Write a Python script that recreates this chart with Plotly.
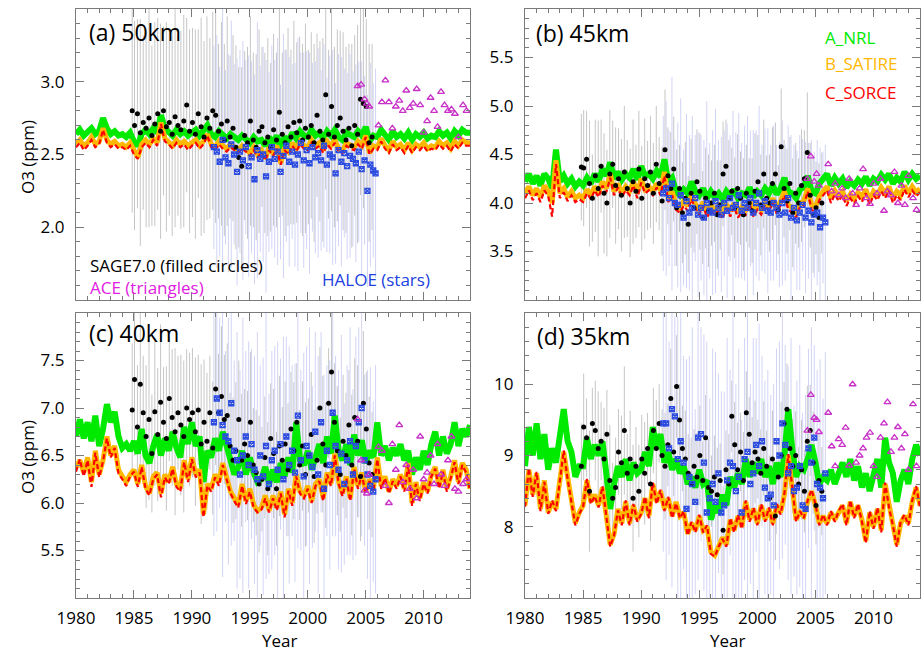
import numpy as np
import plotly.graph_objects as go
from plotly.subplots import make_subplots

# ---------------- model series (3 samples per year, starting Jan 1980) ----------------
a_nrl_50 = [2.64, 2.67, 2.63, 2.65, 2.68, 2.64, 2.66, 2.75, 2.68, 2.64, 2.66, 2.63,
            2.64, 2.62, 2.65, 2.59, 2.56, 2.64, 2.67, 2.64, 2.68, 2.65, 2.77, 2.68,
            2.66, 2.63, 2.67, 2.64, 2.66, 2.63, 2.65, 2.67, 2.63, 2.66, 2.70, 2.64,
            2.62, 2.66, 2.63, 2.61, 2.64, 2.62, 2.60, 2.63, 2.61, 2.58, 2.62, 2.59,
            2.60, 2.56, 2.62, 2.58, 2.63, 2.54, 2.62, 2.59, 2.65, 2.61, 2.66, 2.63,
            2.62, 2.67, 2.63, 2.65, 2.61, 2.66, 2.63, 2.67, 2.62, 2.60, 2.65, 2.63,
            2.62, 2.66, 2.63, 2.69, 2.59, 2.63, 2.62, 2.67, 2.63, 2.60, 2.66, 2.62,
            2.64, 2.61, 2.65, 2.60, 2.64, 2.62, 2.65, 2.61, 2.63, 2.62, 2.66, 2.63,
            2.65, 2.61, 2.66, 2.63, 2.67, 2.65, 2.65]
b_satire_50 = [2.57, 2.60, 2.56, 2.58, 2.62, 2.57, 2.59, 2.68, 2.60, 2.57, 2.59, 2.56,
               2.57, 2.55, 2.58, 2.52, 2.48, 2.57, 2.60, 2.57, 2.61, 2.58, 2.72, 2.61,
               2.59, 2.56, 2.60, 2.57, 2.59, 2.56, 2.58, 2.60, 2.56, 2.59, 2.64, 2.57,
               2.55, 2.59, 2.56, 2.54, 2.57, 2.55, 2.53, 2.56, 2.54, 2.51, 2.55, 2.50,
               2.53, 2.47, 2.55, 2.51, 2.56, 2.44, 2.55, 2.52, 2.58, 2.54, 2.59, 2.56,
               2.55, 2.60, 2.56, 2.58, 2.53, 2.59, 2.56, 2.60, 2.54, 2.53, 2.58, 2.56,
               2.55, 2.59, 2.56, 2.63, 2.51, 2.56, 2.55, 2.61, 2.56, 2.53, 2.59, 2.55,
               2.57, 2.53, 2.58, 2.53, 2.57, 2.55, 2.58, 2.54, 2.56, 2.55, 2.59, 2.56,
               2.58, 2.54, 2.59, 2.56, 2.60, 2.58, 2.58]
c_sorce_50 = [2.55, 2.58, 2.53, 2.56, 2.60, 2.55, 2.57, 2.67, 2.58, 2.55, 2.57, 2.54,
              2.55, 2.53, 2.56, 2.50, 2.47, 2.55, 2.58, 2.55, 2.60, 2.56, 2.71, 2.59,
              2.57, 2.54, 2.58, 2.55, 2.57, 2.53, 2.56, 2.58, 2.54, 2.57, 2.63, 2.55,
              2.53, 2.57, 2.54, 2.52, 2.55, 2.53, 2.51, 2.54, 2.52, 2.49, 2.53, 2.48,
              2.51, 2.46, 2.53, 2.49, 2.54, 2.43, 2.53, 2.50, 2.56, 2.52, 2.57, 2.54,
              2.53, 2.58, 2.54, 2.56, 2.51, 2.57, 2.54, 2.58, 2.52, 2.51, 2.56, 2.54,
              2.53, 2.57, 2.54, 2.62, 2.50, 2.54, 2.53, 2.59, 2.54, 2.51, 2.57, 2.53,
              2.55, 2.51, 2.56, 2.51, 2.55, 2.53, 2.56, 2.52, 2.54, 2.53, 2.57, 2.54,
              2.56, 2.52, 2.57, 2.54, 2.58, 2.56, 2.56]

a_nrl_45 = [4.22, 4.30, 4.20, 4.28, 4.18, 4.30, 4.25, 4.15, 4.55, 4.22, 4.28, 4.20,
            4.25, 4.17, 4.22, 4.18, 4.26, 4.20, 4.30, 4.22, 4.35, 4.28, 4.42, 4.25,
            4.32, 4.24, 4.30, 4.26, 4.35, 4.24, 4.38, 4.28, 4.30, 4.25, 4.33, 4.27,
            4.45, 4.22, 4.26, 4.12, 4.08, 4.14, 4.10, 4.22, 4.12, 4.08, 4.15, 4.05,
            4.12, 4.06, 4.10, 4.04, 4.12, 4.07, 4.14, 4.05, 4.10, 4.08, 4.16, 4.06,
            4.12, 4.08, 4.15, 4.10, 4.18, 4.09, 4.15, 4.26, 4.12, 4.10, 4.05, 4.14,
            4.16, 4.28, 4.12, 4.10, 4.20, 4.25, 4.30, 4.18, 4.26, 4.20, 4.25, 4.16,
            4.22, 4.18, 4.24, 4.20, 4.27, 4.18, 4.25, 4.22, 4.29, 4.24, 4.30, 4.20,
            4.26, 4.22, 4.32, 4.24, 4.30, 4.25, 4.28]
b_satire_45 = [4.10, 4.17, 4.08, 4.15, 4.06, 4.18, 4.12, 4.00, 4.44, 4.10, 4.15, 4.06,
               4.12, 4.05, 4.08, 4.05, 4.14, 4.08, 4.17, 4.10, 4.22, 4.15, 4.30, 4.12,
               4.20, 4.10, 4.17, 4.12, 4.22, 4.10, 4.25, 4.14, 4.17, 4.12, 4.20, 4.13,
               4.32, 4.05, 4.12, 3.98, 3.95, 4.02, 3.97, 4.08, 3.99, 3.93, 4.01, 3.90,
               3.98, 3.92, 3.97, 3.89, 3.99, 3.92, 4.00, 3.90, 3.96, 3.93, 4.03, 3.91,
               3.98, 3.93, 4.02, 3.96, 4.05, 3.94, 4.02, 4.12, 3.98, 3.95, 3.90, 4.00,
               4.02, 4.15, 3.98, 3.96, 4.07, 4.12, 4.17, 4.05, 4.13, 4.07, 4.12, 4.02,
               4.09, 4.04, 4.11, 4.06, 4.14, 4.03, 4.12, 4.08, 4.16, 4.10, 4.17, 4.05,
               4.12, 4.08, 4.18, 4.10, 4.17, 4.11, 4.15]
c_sorce_45 = [4.05, 4.13, 4.03, 4.10, 4.01, 4.13, 4.07, 3.86, 4.40, 4.05, 4.11, 4.02,
              4.08, 4.01, 4.04, 4.01, 4.10, 4.04, 4.13, 4.06, 4.18, 4.11, 4.26, 4.08,
              4.16, 4.06, 4.13, 4.08, 4.18, 4.05, 4.21, 4.10, 4.13, 4.08, 4.16, 4.08,
              4.28, 4.01, 4.08, 3.93, 3.90, 3.97, 3.92, 4.04, 3.94, 3.88, 3.97, 3.85,
              3.93, 3.87, 3.92, 3.84, 3.95, 3.86, 3.96, 3.85, 3.91, 3.88, 3.99, 3.86,
              3.93, 3.88, 3.98, 3.91, 4.01, 3.89, 3.98, 4.08, 3.93, 3.90, 3.85, 3.96,
              3.98, 4.12, 3.93, 3.91, 4.03, 4.08, 4.13, 4.00, 4.09, 4.02, 4.08, 3.97,
              4.05, 3.99, 4.07, 4.01, 4.10, 3.98, 4.08, 4.03, 4.12, 4.05, 4.13, 4.00,
              4.08, 4.03, 4.14, 4.06, 4.13, 4.07, 4.11]

a_nrl_40 = [6.70, 6.88, 6.68, 6.85, 6.65, 6.92, 6.60, 6.78, 7.04, 6.85, 6.96, 6.70,
            6.58, 6.62, 6.55, 6.65, 6.52, 6.78, 6.50, 6.42, 6.60, 6.72, 6.50, 6.68,
            6.55, 6.75, 6.58, 6.48, 6.80, 6.62, 6.85, 6.60, 6.70, 6.22, 6.55, 6.48,
            6.68, 6.55, 6.75, 6.58, 6.45, 6.30, 6.38, 6.55, 6.30, 6.48, 6.32, 6.22,
            6.25, 6.38, 6.20, 6.35, 6.22, 6.42, 6.28, 6.48, 6.32, 6.85, 6.45, 6.40,
            6.55, 6.35, 6.48, 6.62, 6.42, 6.70, 6.52, 6.92, 6.55, 6.45, 6.62, 6.40,
            6.72, 6.50, 6.66, 6.42, 6.55, 6.48, 6.85, 6.50, 6.60, 6.45, 6.58, 6.50,
            6.62, 6.45, 6.55, 6.30, 6.48, 6.35, 6.55, 6.40, 6.62, 6.75, 6.50, 6.70,
            6.52, 6.62, 6.85, 6.60, 6.78, 6.70, 6.82]
b_satire_40 = [6.38, 6.45, 6.32, 6.48, 6.22, 6.55, 6.30, 6.45, 6.70, 6.50, 6.60, 6.35,
               6.28, 6.22, 6.30, 6.35, 6.20, 6.40, 6.18, 6.10, 6.28, 6.32, 6.10, 6.30,
               6.22, 6.38, 6.20, 6.15, 6.45, 6.25, 6.48, 6.30, 6.35, 5.88, 6.20, 6.15,
               6.30, 6.22, 6.42, 6.28, 6.12, 6.05, 5.98, 6.20, 6.02, 6.15, 5.98, 5.92,
               5.95, 6.08, 5.92, 6.08, 5.95, 6.12, 5.88, 6.15, 6.00, 6.30, 6.12, 6.08,
               6.18, 6.02, 6.20, 6.25, 6.05, 6.32, 6.20, 6.52, 6.22, 6.10, 6.28, 6.05,
               6.38, 6.18, 6.32, 6.12, 6.25, 6.15, 6.48, 6.18, 6.28, 6.12, 6.25, 6.18,
               6.30, 6.15, 6.42, 6.00, 6.22, 6.05, 6.22, 6.12, 6.30, 6.38, 6.18, 6.35,
               6.15, 6.28, 6.45, 6.22, 6.42, 6.35, 6.15]
c_sorce_40 = [6.33, 6.46, 6.28, 6.45, 6.17, 6.53, 6.27, 6.44, 6.68, 6.48, 6.58, 6.31,
              6.25, 6.18, 6.28, 6.33, 6.17, 6.38, 6.15, 6.08, 6.25, 6.30, 6.06, 6.27,
              6.20, 6.36, 6.17, 6.12, 6.43, 6.22, 6.46, 6.27, 6.32, 5.85, 6.18, 6.12,
              6.27, 6.18, 6.40, 6.25, 6.10, 6.02, 5.95, 6.18, 5.99, 6.12, 5.95, 5.90,
              5.93, 6.05, 5.90, 6.05, 5.92, 6.10, 5.85, 6.13, 5.97, 6.28, 6.10, 6.05,
              6.15, 6.00, 6.18, 6.23, 6.02, 6.30, 6.18, 6.50, 6.20, 6.07, 6.26, 6.02,
              6.36, 6.15, 6.30, 6.10, 6.23, 6.12, 6.46, 6.15, 6.26, 6.10, 6.23, 6.15,
              6.28, 6.12, 6.40, 5.97, 6.20, 6.02, 6.20, 6.10, 6.28, 6.36, 6.15, 6.33,
              6.12, 6.26, 6.43, 6.20, 6.40, 6.32, 6.13]

a_nrl_35 = [8.85, 9.40, 9.00, 9.45, 8.95, 9.30, 8.80, 9.10, 8.90, 9.35, 9.65, 9.20,
            9.05, 8.70, 8.85, 8.85, 9.25, 8.95, 9.15, 9.00, 9.20, 8.75, 8.25, 8.60,
            8.85, 8.70, 8.95, 8.65, 8.90, 8.75, 8.80, 9.05, 8.85, 9.40, 9.10, 9.30,
            8.90, 9.05, 8.80, 8.95, 8.75, 8.85, 8.60, 8.70, 8.55, 8.80, 8.60, 8.65,
            8.10, 8.30, 8.20, 8.45, 8.30, 8.70, 8.55, 8.75, 8.60, 8.95, 8.70, 8.90,
            8.75, 8.95, 8.70, 8.85, 8.60, 8.90, 8.70, 9.00, 9.65, 9.10, 8.70, 8.85,
            8.80, 8.95, 9.15, 8.90, 8.60, 8.70, 8.65, 8.80, 8.60, 8.75, 8.90, 8.70,
            8.95, 8.65, 8.85, 8.55, 8.75, 8.50, 8.70, 8.95, 8.55, 9.25, 8.90, 8.75,
            8.35, 8.65, 8.80, 8.60, 8.95, 9.15, 9.00]
b_satire_35 = [8.30, 8.80, 8.45, 8.75, 8.25, 8.65, 8.20, 8.35, 8.25, 8.70, 9.05, 8.70,
               8.35, 8.05, 8.20, 8.30, 8.65, 8.35, 8.45, 8.30, 8.55, 8.15, 7.75, 7.90,
               8.25, 8.05, 8.35, 8.05, 8.30, 8.10, 8.20, 8.40, 8.15, 8.60, 8.35, 8.50,
               8.25, 8.40, 8.15, 8.35, 8.15, 8.20, 7.90, 8.05, 7.95, 8.15, 7.95, 8.00,
               7.65, 7.60, 7.75, 7.85, 7.75, 8.10, 7.95, 8.15, 8.00, 8.35, 8.10, 8.25,
               8.05, 8.30, 8.10, 8.25, 8.05, 8.30, 8.20, 8.45, 9.00, 8.55, 8.10, 8.20,
               8.15, 8.35, 8.50, 8.30, 8.05, 8.15, 8.05, 8.20, 8.10, 8.20, 8.30, 8.05,
               8.35, 8.15, 8.30, 8.10, 7.80, 8.20, 8.00, 8.25, 7.95, 8.60, 8.30, 8.05,
               7.75, 8.05, 8.15, 8.05, 8.35, 8.55, 8.30]
c_sorce_35 = [8.28, 8.82, 8.42, 8.77, 8.22, 8.63, 8.18, 8.37, 8.22, 8.68, 9.07, 8.67,
              8.33, 8.02, 8.18, 8.28, 8.67, 8.32, 8.43, 8.27, 8.57, 8.12, 7.72, 7.88,
              8.23, 8.02, 8.37, 8.02, 8.32, 8.07, 8.18, 8.42, 8.12, 8.62, 8.32, 8.52,
              8.22, 8.42, 8.12, 8.33, 8.12, 8.22, 7.88, 8.07, 7.92, 8.17, 7.92, 8.02,
              7.62, 7.58, 7.72, 7.83, 7.72, 8.12, 7.92, 8.17, 7.97, 8.37, 8.07, 8.27,
              8.02, 8.32, 8.07, 8.27, 8.02, 8.32, 8.17, 8.47, 9.02, 8.57, 8.07, 8.22,
              8.12, 8.37, 8.52, 8.32, 8.02, 8.17, 8.02, 8.22, 8.07, 8.22, 8.32, 8.02,
              8.37, 8.12, 8.32, 8.07, 7.77, 8.22, 7.97, 8.27, 7.92, 8.62, 8.27, 8.02,
              7.72, 8.07, 8.17, 8.02, 8.37, 8.57, 8.27]

# ---------------- SAGE 7.0 ----------------
sage_t = [1984.85,
          1985.05, 1985.30, 1985.55, 1985.80, 1986.05, 1986.30, 1986.55, 1986.80,
          1987.05, 1987.30, 1987.55, 1987.80, 1988.05, 1988.30, 1988.55, 1988.80,
          1989.05, 1989.30, 1989.55, 1989.80, 1990.05, 1990.30, 1990.55, 1990.80,
          1991.05, 1991.30, 1991.55, 1991.80, 1992.05, 1992.30, 1992.55, 1992.80,
          1993.05, 1993.30, 1993.55, 1993.80, 1994.05, 1994.30, 1994.55, 1994.80,
          1995.05, 1995.30, 1995.55, 1995.80, 1996.05, 1996.30, 1996.55, 1996.80,
          1997.05, 1997.30, 1997.55, 1997.80, 1998.05, 1998.30, 1998.55, 1998.80,
          1999.05, 1999.30, 1999.55, 1999.80, 2000.05, 2000.30, 2000.55, 2000.80,
          2001.05, 2001.30, 2001.55, 2001.80, 2002.05, 2002.30, 2002.55, 2002.80,
          2003.05, 2003.30, 2003.55, 2003.80, 2004.05, 2004.30, 2004.55, 2004.80,
          2005.05, 2005.30, 2005.55]
sage_50 = [2.80,
           2.70, 2.78, 2.65, 2.72, 2.68, 2.75, 2.63, 2.71,
           2.78, 2.66, 2.80, 2.69, 2.72, 2.64, 2.76, 2.70,
           2.67, 2.73, 2.84, 2.66, 2.72, 2.64, 2.78, 2.69,
           2.62, 2.75, 2.68, 2.80, 2.77, 2.66, 2.71, 2.60,
           2.73, 2.62, 2.68, 2.55, 2.48, 2.42, 2.63, 2.58,
           2.73, 2.60, 2.55, 2.66, 2.69, 2.58, 2.62, 2.55,
           2.67, 2.60, 2.79, 2.64, 2.58, 2.69, 2.62, 2.72,
           2.65, 2.73, 2.60, 2.68, 2.62, 2.70, 2.58, 2.77,
           2.66, 2.60, 2.91, 2.64, 2.83, 2.62, 2.70, 2.75,
           2.66, 2.60, 2.68, 2.56, 2.70, 2.64, 2.88, 2.85,
           2.83, 2.58, 2.62]
sage_err_50 = [0.70,
               0.72, 0.65, 0.78, 0.60, 0.68, 0.75, 0.62, 0.70,
               0.66, 0.74, 0.58, 0.72, 0.64, 0.70, 0.76, 0.62,
               0.68, 0.73, 0.60, 0.70, 0.65, 0.72, 0.58, 0.75,
               0.66, 0.70, 0.62, 0.68, 0.74, 0.60, 0.70, 0.66,
               0.72, 0.56, 0.64, 0.70, 0.62, 0.68, 0.58, 0.66,
               0.72, 0.60, 0.64, 0.70, 0.55, 0.62, 0.68, 0.58,
               0.66, 0.60, 0.72, 0.56, 0.64, 0.68, 0.60, 0.70,
               0.62, 0.58, 0.66, 0.72, 0.60, 0.64, 0.68, 0.56,
               0.62, 0.70, 0.65, 0.58, 0.72, 0.62, 0.66, 0.60,
               0.68, 0.64, 0.58, 0.70, 0.62, 0.75, 0.66, 0.72,
               0.60, 0.68, 0.64]
sage_45 = [4.37,
           4.36, 4.45, 4.20, 4.05, 4.28, 4.15, 4.38, 4.10,
           4.00, 4.30, 4.40, 4.18, 4.25, 4.08, 4.32, 4.15,
           4.00, 4.22, 4.12, 4.35, 4.05, 4.25, 4.18, 4.32,
           4.10, 4.40, 4.20, 4.02, 4.55, 4.28, 4.15, 4.35,
           3.95, 4.15, 3.90, 4.05, 3.78, 4.10, 3.95, 4.22,
           4.12, 3.85, 4.05, 3.92, 4.00, 4.10, 3.88, 3.98,
           4.30, 4.38, 4.05, 4.12, 3.95, 4.15, 4.05, 3.88,
           4.10, 4.00, 3.92, 4.12, 4.22, 3.98, 4.30, 4.05,
           4.00, 4.20, 4.30, 3.93, 4.58, 4.15, 4.02, 4.20,
           3.90, 4.10, 4.00, 4.18, 4.25, 4.52, 4.08, 3.88,
           3.95, 3.85, 4.00]
sage_err_45 = [0.55,
               0.60, 0.50, 0.65, 0.45, 0.58, 0.70, 0.48, 0.62,
               0.55, 0.66, 0.45, 0.60, 0.52, 0.58, 0.68, 0.50,
               0.56, 0.64, 0.48, 0.60, 0.54, 0.62, 0.46, 0.58,
               0.52, 0.60, 0.48, 0.56, 0.62, 0.50, 0.58, 0.54,
               0.60, 0.45, 0.52, 0.58, 0.50, 0.56, 0.46, 0.54,
               0.60, 0.48, 0.52, 0.58, 0.44, 0.50, 0.56, 0.46,
               0.54, 0.48, 0.60, 0.45, 0.52, 0.56, 0.48, 0.58,
               0.50, 0.46, 0.54, 0.60, 0.48, 0.52, 0.56, 0.44,
               0.50, 0.58, 0.53, 0.46, 0.60, 0.50, 0.54, 0.48,
               0.56, 0.52, 0.46, 0.58, 0.50, 0.62, 0.54, 0.60,
               0.48, 0.56, 0.52]
sage_40 = [6.98,
           7.30, 6.80, 7.25, 6.95, 6.70, 6.88, 6.52, 6.96,
           6.72, 7.06, 6.85, 6.68, 7.10, 6.90, 6.75, 6.95,
           6.82, 6.70, 7.00, 6.88, 6.95, 6.75, 6.98, 6.62,
           6.85, 6.65, 6.95, 6.58, 7.20, 6.95, 7.12, 6.88,
           6.92, 6.60, 6.45, 6.55, 6.88, 6.45, 6.62, 6.50,
           6.85, 6.40, 6.32, 6.20, 6.25, 6.48, 6.15, 6.68,
           6.52, 6.15, 6.60, 6.45, 6.62, 6.35, 6.78, 6.55,
           6.85, 6.40, 6.60, 6.30, 6.50, 6.72, 6.28, 6.45,
           7.00, 6.62, 6.40, 7.05, 7.38, 6.85, 6.55, 6.30,
           6.65, 6.50, 6.82, 6.40, 6.90, 6.65, 6.28, 7.05,
           6.78, 6.42, 6.30]
sage_err_40 = [0.70,
               0.80, 0.65, 0.90, 0.60, 0.75, 0.85, 0.62, 0.78,
               0.70, 0.82, 0.58, 0.76, 0.66, 0.72, 0.88, 0.60,
               0.74, 0.80, 0.62, 0.70, 0.68, 0.78, 0.58, 0.84,
               0.66, 0.72, 0.60, 0.70, 0.80, 0.62, 0.74, 0.68,
               0.76, 0.56, 0.66, 0.72, 0.62, 0.70, 0.58, 0.68,
               0.74, 0.60, 0.66, 0.72, 0.55, 0.64, 0.70, 0.58,
               0.68, 0.60, 0.74, 0.56, 0.66, 0.70, 0.60, 0.72,
               0.62, 0.58, 0.68, 0.76, 0.60, 0.66, 0.70, 0.56,
               0.64, 0.72, 0.66, 0.58, 0.80, 0.62, 0.68, 0.60,
               0.70, 0.66, 0.58, 0.74, 0.62, 0.80, 0.68, 0.76,
               0.60, 0.70, 0.66]
sage_35 = [8.85,
           9.40, 9.25, 8.50, 9.45, 9.35, 9.10, 9.20, 8.95,
           9.30, 8.65, 8.40, 8.55, 9.05, 8.90, 9.35, 8.75,
           8.95, 8.40, 8.85, 8.50, 8.95, 8.75, 9.10, 8.60,
           9.35, 9.10, 9.45, 9.00, 8.85, 9.15, 9.80, 9.05,
           9.97, 9.50, 9.10, 8.95, 8.75, 8.60, 8.85, 8.70,
           9.00, 8.65, 9.25, 8.55, 8.50, 8.70, 8.45, 8.65,
           7.95, 8.80, 8.60, 9.55, 9.15, 8.80, 9.05, 8.65,
           9.60, 9.30, 8.90, 9.05, 8.95, 8.75, 9.10, 8.85,
           8.40, 8.95, 8.15, 8.70, 9.00, 9.45, 9.65, 9.10,
           8.85, 9.00, 8.60, 8.80, 8.50, 9.20, 9.35, 8.90,
           8.30, 8.65, 8.50]
sage_err_35 = [0.60,
               0.75, 0.55, 0.85, 0.50, 0.70, 0.80, 0.55, 0.72,
               0.62, 0.78, 0.50, 0.70, 0.60, 0.66, 0.90, 0.55,
               0.68, 0.75, 0.55, 0.65, 0.62, 0.72, 0.50, 0.80,
               0.60, 0.68, 0.55, 0.65, 0.75, 0.58, 0.70, 0.62,
               0.72, 0.50, 0.60, 0.68, 0.55, 0.65, 0.52, 0.62,
               0.70, 0.55, 0.60, 0.68, 0.50, 0.58, 0.66, 0.52,
               0.62, 0.55, 0.70, 0.50, 0.60, 0.66, 0.55, 0.68,
               0.58, 0.52, 0.64, 0.72, 0.55, 0.62, 0.66, 0.50,
               0.60, 0.68, 0.62, 0.52, 0.75, 0.58, 0.64, 0.55,
               0.66, 0.62, 0.52, 0.70, 0.58, 0.78, 0.64, 0.72,
               0.55, 0.66, 0.62]

# ---------------- HALOE ----------------
haloe_t = [1991.90,
           1992.15, 1992.40, 1992.65, 1992.90, 1993.15, 1993.40, 1993.65, 1993.90,
           1994.15, 1994.40, 1994.65, 1994.90, 1995.15, 1995.40, 1995.65, 1995.90,
           1996.15, 1996.40, 1996.65, 1996.90, 1997.15, 1997.40, 1997.65, 1997.90,
           1998.15, 1998.40, 1998.65, 1998.90, 1999.15, 1999.40, 1999.65, 1999.90,
           2000.15, 2000.40, 2000.65, 2000.90, 2001.15, 2001.40, 2001.65, 2001.90,
           2002.15, 2002.40, 2002.65, 2002.90, 2003.15, 2003.40, 2003.65, 2003.90,
           2004.15, 2004.40, 2004.65, 2004.90, 2005.15, 2005.40, 2005.65, 2005.85]
haloe_50 = [2.55,
            2.52, 2.45, 2.60, 2.48, 2.44, 2.57, 2.50, 2.38,
            2.52, 2.46, 2.55, 2.42, 2.48, 2.33, 2.53, 2.47,
            2.50, 2.35, 2.45, 2.55, 2.47, 2.52, 2.38, 2.49,
            2.56, 2.45, 2.52, 2.43, 2.50, 2.58, 2.46, 2.53,
            2.44, 2.55, 2.48, 2.51, 2.46, 2.56, 2.43, 2.50,
            2.48, 2.37, 2.53, 2.45, 2.51, 2.42, 2.49, 2.47,
            2.44, 2.52, 2.40, 2.46, 2.25, 2.43, 2.39, 2.37]
haloe_err_50 = [0.70,
                0.80, 0.65, 0.90, 0.60, 0.75, 0.85, 0.62, 0.78,
                0.70, 0.82, 0.60, 0.76, 0.66, 0.72, 0.88, 0.64,
                0.74, 0.80, 0.62, 0.70, 0.68, 0.78, 0.60, 0.84,
                0.66, 0.72, 0.60, 0.70, 0.80, 0.62, 0.74, 0.68,
                0.76, 0.58, 0.66, 0.72, 0.62, 0.70, 0.60, 0.68,
                0.74, 0.62, 0.66, 0.72, 0.58, 0.64, 0.70, 0.60,
                0.68, 0.62, 0.74, 0.58, 0.66, 0.70, 0.60, 0.72]
haloe_45 = [4.10,
            4.15, 4.05, 4.20, 4.00, 3.98, 4.08, 3.85, 4.02,
            3.90, 3.95, 4.05, 3.88, 3.95, 3.85, 4.00, 3.92,
            3.90, 4.02, 3.95, 3.88, 4.00, 3.92, 4.05, 3.95,
            3.98, 4.08, 3.92, 4.00, 3.95, 4.05, 3.90, 4.00,
            4.10, 3.95, 4.02, 3.92, 3.90, 4.00, 3.95, 3.88,
            4.00, 3.90, 4.05, 3.85, 3.95, 3.82, 3.90, 3.98,
            3.85, 3.92, 3.80, 3.88, 3.90, 3.75, 3.85, 3.80]
haloe_err_45 = [0.80,
                0.90, 0.70, 1.10, 0.65, 0.85, 1.00, 0.70, 0.90,
                0.80, 0.95, 0.65, 0.85, 0.75, 0.80, 1.05, 0.70,
                0.85, 0.95, 0.70, 0.80, 0.75, 0.90, 0.65, 1.00,
                0.75, 0.85, 0.70, 0.80, 0.95, 0.70, 0.85, 0.75,
                0.90, 0.65, 0.75, 0.85, 0.70, 0.80, 0.65, 0.75,
                0.85, 0.70, 0.75, 0.85, 0.65, 0.72, 0.80, 0.68,
                0.78, 0.70, 0.85, 0.65, 0.75, 0.82, 0.68, 0.80]
haloe_40 = [6.85,
            7.10, 6.95, 6.82, 6.70, 6.65, 7.05, 6.55, 6.45,
            6.30, 6.50, 6.70, 6.40, 6.62, 6.35, 6.25, 6.50,
            6.28, 6.60, 6.20, 6.45, 6.55, 6.35, 6.62, 6.25,
            6.70, 6.40, 6.55, 6.32, 6.92, 6.45, 6.28, 6.60,
            6.50, 6.38, 6.75, 6.30, 6.85, 6.15, 6.55, 6.40,
            6.95, 6.60, 6.35, 6.52, 6.20, 6.45, 6.65, 6.30,
            6.60, 6.85, 7.00, 6.45, 6.30, 6.18, 6.12, 6.25]
haloe_err_40 = [1.20,
                1.40, 1.00, 1.60, 0.90, 1.30, 1.50, 0.95, 1.35,
                1.10, 1.45, 0.90, 1.30, 1.00, 1.20, 1.55, 0.95,
                1.25, 1.40, 0.95, 1.15, 1.10, 1.35, 0.90, 1.50,
                1.05, 1.25, 0.90, 1.15, 1.40, 0.95, 1.30, 1.05,
                1.35, 0.85, 1.05, 1.25, 0.95, 1.20, 0.90, 1.10,
                1.30, 0.95, 1.05, 1.25, 0.85, 1.00, 1.20, 0.90,
                1.15, 1.00, 1.35, 0.90, 1.10, 1.25, 0.95, 1.20]
haloe_35 = [9.45,
            9.45, 9.10, 9.65, 9.55, 8.95, 9.20, 8.90, 8.25,
            8.70, 8.60, 8.35, 9.25, 9.30, 8.90, 8.20, 8.40,
            8.60, 8.35, 8.75, 8.20, 8.30, 8.65, 8.90, 8.85,
            8.50, 8.70, 8.20, 8.95, 9.05, 8.60, 8.75, 9.15,
            8.85, 9.20, 8.55, 8.40, 8.45, 8.30, 9.20, 9.00,
            9.45, 9.15, 8.75, 8.85, 8.50, 8.55, 8.85, 8.30,
            8.25, 9.10, 8.90, 9.25, 8.60, 8.55, 8.40, 8.75]
haloe_err_35 = [1.80,
                2.20, 1.50, 2.50, 1.40, 2.00, 2.30, 1.50, 2.10,
                1.70, 2.20, 1.30, 2.00, 1.50, 1.80, 2.40, 1.40,
                1.90, 2.10, 1.40, 1.70, 1.60, 2.00, 1.30, 2.30,
                1.50, 1.80, 1.30, 1.70, 2.10, 1.40, 1.90, 1.50,
                2.00, 1.20, 1.50, 1.80, 1.40, 1.70, 1.30, 1.60,
                1.90, 1.40, 1.50, 1.80, 1.20, 1.50, 1.70, 1.30,
                1.60, 1.40, 1.90, 1.30, 1.60, 1.80, 1.40, 1.70]

# ---------------- ACE ----------------
ace_t = [2004.30, 2004.60, 2004.90, 2005.10, 2005.30, 2006.10, 2006.40, 2006.70,
         2007.00, 2007.30, 2007.60, 2007.90, 2008.20, 2008.50, 2008.80, 2009.10,
         2009.40, 2009.70, 2010.00, 2010.30, 2010.60, 2010.90, 2011.20, 2011.50,
         2011.80, 2012.10, 2012.40, 2012.70, 2013.00, 2013.40, 2013.70]
ace_50 = [2.97, 2.98, 2.88, 2.85, 2.83, 2.70, 2.86, 3.01, 2.86, 2.68, 2.83, 2.87,
          2.80, 2.94, 2.82, 2.85, 2.95, 2.84, 2.65, 2.73, 2.89, 2.80, 2.69, 2.93,
          2.84, 2.80, 2.81, 2.78, 2.62, 2.84, 2.80]
ace_45 = [4.25, 4.48, 4.22, 4.30, 4.18, 4.40, 4.12, 4.20, 4.08, 4.15, 4.05, 4.25,
          4.10, 3.98, 4.15, 4.35, 4.05, 3.99, 4.20, 4.10, 4.25, 3.92, 4.12, 4.08,
          4.32, 4.00, 4.18, 3.98, 4.28, 4.05, 3.93]
ace_40 = [6.88, 6.45, 6.13, 6.10, 6.30, 6.59, 6.55, 6.18, 6.00, 6.62, 6.35, 6.82,
          6.22, 6.40, 6.15, 6.35, 6.05, 6.70, 6.25, 6.32, 6.50, 6.20, 6.62, 6.30,
          6.18, 6.45, 6.70, 6.15, 6.12, 6.20, 6.25]
ace_35 = [9.35, 9.85, 9.53, 9.50, 9.33, 9.60, 9.13, 8.85, 9.23, 9.15, 9.39, 8.86,
          10.00, 8.90, 9.00, 9.10, 9.25, 9.32, 8.85, 8.70, 9.25, 9.45, 9.75, 9.05,
          9.25, 9.40, 9.10, 9.30, 8.80, 9.72, 8.85]

# ---------------- axes / labels ----------------
panel_labels = ["(a) 50km", "(b) 45km", "(c) 40km", "(d) 35km"]
x_ticks = [1980, 1985, 1990, 1995, 2000, 2005, 2010]
yticks_50 = [2.0, 2.5, 3.0]
yticks_45 = [3.5, 4.0, 4.5, 5.0, 5.5]
yticks_40 = [5.5, 6.0, 6.5, 7.0, 7.5]
yticks_35 = [8, 9, 10]
ytext_50 = ["2.0", "2.5", "3.0"]
ytext_45 = ["3.5", "4.0", "4.5", "5.0", "5.5"]
ytext_40 = ["5.5", "6.0", "6.5", "7.0", "7.5"]
ytext_35 = ["8", "9", "10"]

panels = [
    dict(a=a_nrl_50, b=b_satire_50, c=c_sorce_50, sage=sage_50, sage_err=sage_err_50,
         haloe=haloe_50, haloe_err=haloe_err_50, ace=ace_50, yr=[1.5, 3.5],
         tv=yticks_50, tt=ytext_50, mdt=0.1),
    dict(a=a_nrl_45, b=b_satire_45, c=c_sorce_45, sage=sage_45, sage_err=sage_err_45,
         haloe=haloe_45, haloe_err=haloe_err_45, ace=ace_45, yr=[3.0, 6.0],
         tv=yticks_45, tt=ytext_45, mdt=0.1),
    dict(a=a_nrl_40, b=b_satire_40, c=c_sorce_40, sage=sage_40, sage_err=sage_err_40,
         haloe=haloe_40, haloe_err=haloe_err_40, ace=ace_40, yr=[5.0, 8.0],
         tv=yticks_40, tt=ytext_40, mdt=0.1),
    dict(a=a_nrl_35, b=b_satire_35, c=c_sorce_35, sage=sage_35, sage_err=sage_err_35,
         haloe=haloe_35, haloe_err=haloe_err_35, ace=ace_35, yr=[7.0, 11.0],
         tv=yticks_35, tt=ytext_35, mdt=0.2),
]

GREEN = "#00ea00"
ORANGE = "#ffb800"
RED = "#ff0000"
FONT = "Open Sans"
AXC = "#7a7a7a"


def trim(*arrs):
    n = min(len(a) for a in arrs)
    return [list(a)[:n] for a in arrs]


fig = make_subplots(rows=2, cols=2)

for i, p in enumerate(panels):
    row, col = i // 2 + 1, i % 2 + 1
    st, sv, se = trim(sage_t, p["sage"], p["sage_err"])
    ht, hv, he = trim(haloe_t, p["haloe"], p["haloe_err"])
    at, av = trim(ace_t, p["ace"])
    # error bars (behind everything)
    fig.add_trace(go.Scatter(x=st, y=sv, mode="markers", marker=dict(size=1, opacity=0),
                             error_y=dict(type="data", array=se, visible=True, color="#c6c6c6",
                                          thickness=1, width=0),
                             hoverinfo="skip", showlegend=False), row=row, col=col)
    fig.add_trace(go.Scatter(x=ht, y=hv, mode="markers", marker=dict(size=1, opacity=0),
                             error_y=dict(type="data", array=he, visible=True, color="#d2d4f6",
                                          thickness=1, width=0),
                             hoverinfo="skip", showlegend=False), row=row, col=col)
    # model curves
    for key, color, w, dash in [("a", GREEN, 6, "solid"), ("b", ORANGE, 5, "solid"),
                                ("c", RED, 2.2, "5px,3px")]:
        vals = p[key]
        yrs = 1980 + np.arange(len(vals)) / 3.0
        fig.add_trace(go.Scatter(x=yrs, y=vals, mode="lines",
                                 line=dict(color=color, width=w, dash=dash),
                                 hoverinfo="skip", showlegend=False), row=row, col=col)
    # observations
    fig.add_trace(go.Scatter(x=st, y=sv, mode="markers",
                             marker=dict(symbol="circle", size=5, color="black"),
                             showlegend=False), row=row, col=col)
    fig.add_trace(go.Scatter(x=ht, y=hv, mode="markers",
                             marker=dict(symbol="square-x-open", size=5, color="#2a4ae0",
                                         line=dict(width=1.3, color="#2a4ae0")),
                             showlegend=False), row=row, col=col)
    fig.add_trace(go.Scatter(x=at, y=av, mode="markers",
                             marker=dict(symbol="triangle-up-open", size=6, color="#c830c8",
                                         line=dict(width=1.3, color="#c830c8")),
                             showlegend=False), row=row, col=col)

    fig.update_yaxes(range=p["yr"], tickmode="array", tickvals=p["tv"], ticktext=p["tt"],
                     row=row, col=col,
                     minor=dict(ticks="inside", ticklen=4, tickmode="linear", dtick=p["mdt"],
                                tick0=0, tickcolor=AXC, tickwidth=1))
    fig.update_xaxes(range=[1980, 2014], tickmode="array", tickvals=x_ticks,
                     showticklabels=(row == 2), row=row, col=col,
                     minor=dict(ticks="inside", ticklen=4, tickmode="linear", dtick=1,
                                tick0=1980, tickcolor=AXC, tickwidth=1))

common = dict(showline=True, linecolor=AXC, linewidth=1.2, mirror="allticks",
              ticks="inside", ticklen=8, tickcolor=AXC, tickwidth=1,
              showgrid=False, zeroline=False, automargin=False,
              tickfont=dict(family=FONT, size=17, color="black"))
fig.update_xaxes(**common, ticklabelstandoff=4)
fig.update_yaxes(**common, ticklabelstandoff=7)

xd_left = [76 / 921, 470 / 921]
xd_right = [525 / 921, 920 / 921]
yd_top = [1 - 300 / 651, 1 - 9 / 651]
yd_bot = [1 - 598 / 651, 1 - 313 / 651]
fig.update_layout(
    xaxis=dict(domain=xd_left), yaxis=dict(domain=yd_top),
    xaxis2=dict(domain=xd_right), yaxis2=dict(domain=yd_top),
    xaxis3=dict(domain=xd_left), yaxis3=dict(domain=yd_bot),
    xaxis4=dict(domain=xd_right), yaxis4=dict(domain=yd_bot),
)

ann = []
label_pos = [(87, 32), (534, 33), (87, 333), (535, 336)]
for lab, (px, py) in zip(panel_labels, label_pos):
    ann.append(dict(text=lab, x=px / 921, y=1 - py / 651, xref="paper", yref="paper",
                    xanchor="left", yanchor="middle", showarrow=False,
                    font=dict(family=FONT, size=23, color="black")))
legend_items = [("A_NRL", GREEN, 823, 37), ("B_SATIRE", ORANGE, 823, 64), ("C_SORCE", RED, 823, 92),
                ("SAGE7.0 (filled circles)", "black", 88, 265),
                ("ACE (triangles)", "#e020e0", 88, 287),
                ("HALOE (stars)", "#2040e0", 320, 279)]
for txt, colr, px, py in legend_items:
    ann.append(dict(text=txt, x=px / 921, y=1 - py / 651, xref="paper", yref="paper",
                    xanchor="left", yanchor="middle", showarrow=False,
                    font=dict(family=FONT, size=17, color=colr)))
for cx in (279, 727):
    ann.append(dict(text="Year", x=cx / 921, y=1 - 640 / 651, xref="paper", yref="paper",
                    xanchor="center", yanchor="middle", showarrow=False,
                    font=dict(family=FONT, size=17, color="black")))
for cy in (157, 457):
    ann.append(dict(text="O3 (ppm)", x=27 / 921, y=1 - cy / 651, xref="paper", yref="paper",
                    xanchor="center", yanchor="middle", showarrow=False, textangle=-90,
                    font=dict(family=FONT, size=17, color="black")))

fig.update_layout(width=921, height=651, margin=dict(l=0, r=0, t=0, b=0, autoexpand=False),
                  paper_bgcolor="white", plot_bgcolor="white",
                  font=dict(family=FONT, size=17, color="black"),
                  annotations=ann, showlegend=False)

fig.write_html("out.html")
